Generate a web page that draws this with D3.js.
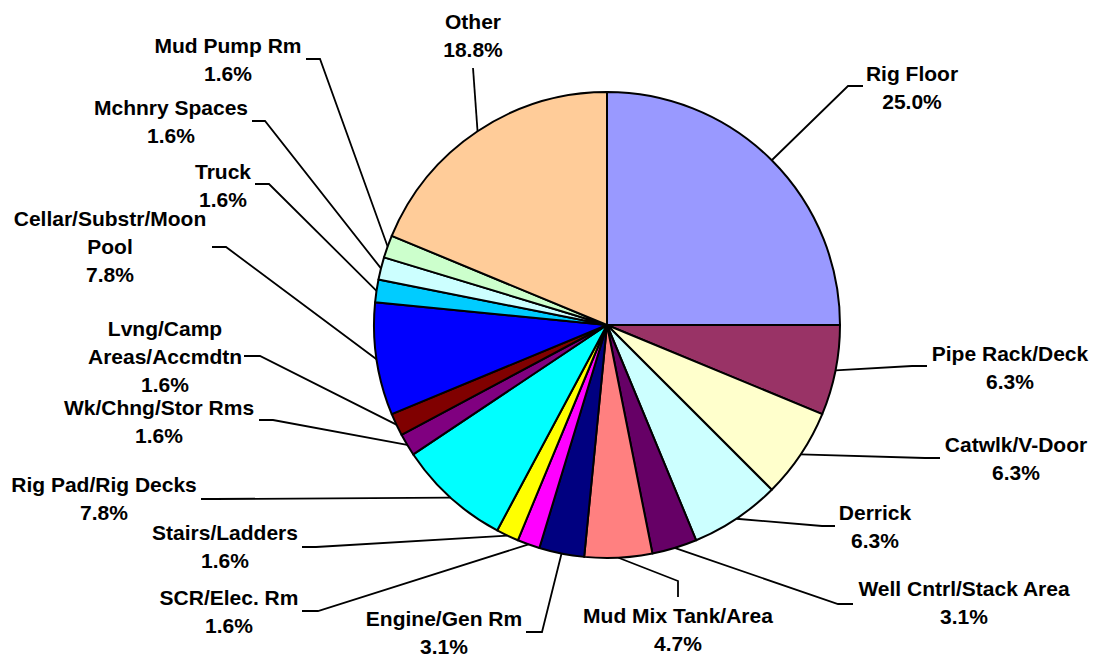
<!DOCTYPE html>
<html>
<head>
<meta charset="utf-8">
<script src="https://cdn.jsdelivr.net/npm/d3@7"></script>
<style>
  html, body { margin: 0; padding: 0; background: #fff; }
  svg { display: block; }
  text { font-family: "Liberation Sans", Arial, sans-serif; font-weight: bold; font-size: 21px; fill: #000; }
</style>
</head>
<body>
<svg id="chart" width="1094" height="656"></svg>
<script>
// ---- data (incident counts, clockwise from 12 o'clock) ----
const categories = [
  "Rig Floor", "Pipe Rack/Deck", "Catwlk/V-Door", "Derrick", "Well Cntrl/Stack Area",
  "Mud Mix Tank/Area", "Engine/Gen Rm", "SCR/Elec. Rm", "Stairs/Ladders", "Rig Pad/Rig Decks",
  "Wk/Chng/Stor Rms", "Lvng/Camp Areas/Accmdtn", "Cellar/Substr/Moon Pool", "Truck",
  "Mchnry Spaces", "Mud Pump Rm", "Other"
];
const values = [16, 4, 4, 4, 2, 3, 2, 1, 1, 5, 1, 1, 5, 1, 1, 1, 12];
const percentLabels = ["25.0%", "6.3%", "6.3%", "6.3%", "3.1%", "4.7%", "3.1%", "1.6%", "1.6%",
  "7.8%", "1.6%", "1.6%", "7.8%", "1.6%", "1.6%", "1.6%", "18.8%"];
// how category names wrap in the labels
const labelLines = [
  ["Rig Floor"], ["Pipe Rack/Deck"], ["Catwlk/V-Door"], ["Derrick"], ["Well Cntrl/Stack Area"],
  ["Mud Mix Tank/Area"], ["Engine/Gen Rm"], ["SCR/Elec. Rm"], ["Stairs/Ladders"], ["Rig Pad/Rig Decks"],
  ["Wk/Chng/Stor Rms"], ["Lvng/Camp", "Areas/Accmdtn"], ["Cellar/Substr/Moon", "Pool"], ["Truck"],
  ["Mchnry Spaces"], ["Mud Pump Rm"], ["Other"]
];
const colors = ["#9999FF", "#993366", "#FFFFCC", "#CCFFFF", "#660066", "#FF8080", "#000080",
  "#FF00FF", "#FFFF00", "#00FFFF", "#800080", "#800000", "#0000FF", "#00CCFF", "#CCFFFF",
  "#CCFFCC", "#FFCC99"];

// ---- layout (label text centre x, first line centre y, leader points from label side) ----
const labelLayout = [
  { x: 912, y: 73,  leader: [[863, 86], [848, 86]] },
  { x: 1010, y: 353, leader: [[927, 366], [912, 366]] },
  { x: 1016, y: 444, leader: [[940, 458], [925, 458]] },
  { x: 875, y: 512, leader: [[835, 526], [822, 526]] },
  { x: 964, y: 588, leader: [[853, 604], [838, 604]] },
  { x: 678, y: 615, leader: [[678, 597], [678, 581]] },
  { x: 444, y: 618, leader: [[526, 632], [542, 632]] },
  { x: 229, y: 597, leader: [[302, 611], [318, 611]] },
  { x: 225, y: 532, leader: [[302, 547], [316, 547]] },
  { x: 104, y: 484, leader: [[201, 499], [215, 499]] },
  { x: 159, y: 407, leader: [[259, 420], [273, 420]] },
  { x: 165, y: 328, leader: [[244, 356], [260, 356]] },
  { x: 110, y: 218, leader: [[212, 247], [226, 247]] },
  { x: 223, y: 171, leader: [[255, 184], [269, 184]] },
  { x: 171, y: 107, leader: [[252, 121], [265, 121]] },
  { x: 228, y: 45,  leader: [[306, 59], [320, 59]] },
  { x: 473, y: 21,  leader: [[473, 68]] }
];

const cx = 607, cy = 325, radius = 233, lineH = 28;

const svg = d3.select("#chart");
const pie = d3.pie().sort(null).value(d => d)(values);
const arc = d3.arc().innerRadius(0).outerRadius(radius);

const g = svg.append("g").attr("transform", `translate(${cx},${cy})`);
g.selectAll("path.slice")
  .data(pie)
  .join("path")
  .attr("class", "slice")
  .attr("d", arc)
  .attr("fill", (d, i) => colors[i])
  .attr("stroke", "#000")
  .attr("stroke-width", 2)
  .attr("stroke-linejoin", "round");

// leader lines: from arc midpoint on the rim to the label
const line = d3.line();
svg.selectAll("path.leader")
  .data(pie)
  .join("path")
  .attr("class", "leader")
  .attr("fill", "none")
  .attr("stroke", "#000")
  .attr("stroke-width", 1.8)
  .attr("d", (d, i) => {
    const a = (d.startAngle + d.endAngle) / 2;
    const rim = [cx + radius * Math.sin(a), cy - radius * Math.cos(a)];
    const pts = labelLayout[i].leader.slice();
    return line([...pts, rim]);
  });

// labels
const labels = svg.selectAll("text.lbl")
  .data(categories)
  .join("text")
  .attr("class", "lbl")
  .attr("text-anchor", "middle");
labels.each(function (name, i) {
  const t = d3.select(this);
  const lines = labelLines[i].concat([percentLabels[i]]);
  lines.forEach((s, k) => {
    t.append("tspan")
      .attr("x", labelLayout[i].x)
      .attr("y", labelLayout[i].y + k * lineH)
      .attr("dy", "0.36em")
      .text(s);
  });
});
</script>
</body>
</html>
